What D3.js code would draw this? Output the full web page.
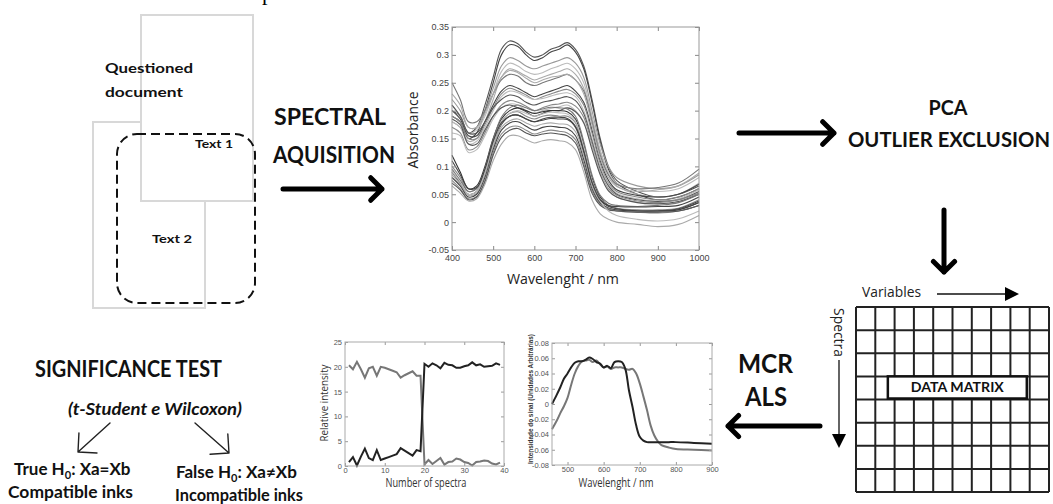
<!DOCTYPE html>
<html><head><meta charset="utf-8">
<script src="https://cdn.jsdelivr.net/npm/d3@7"></script>
<style>body{margin:0;background:#fff}svg{display:block}</style>
</head><body>
<svg id="c" width="1053" height="504"></svg>
<script>
// ---------- DATA ----------
const wavelengths = [400,420,440,460,480,500,520,540,560,580,600,620,640,660,680,700,720,740,760,780,800,850,900,950,1000];
const spectra = [
 [0.20,0.19,0.16,0.17,0.21,0.26,0.31,0.325,0.32,0.305,0.296,0.30,0.31,0.315,0.322,0.31,0.28,0.22,0.15,0.10,0.075,0.055,0.045,0.05,0.065],
 [0.19,0.18,0.15,0.16,0.20,0.25,0.30,0.318,0.315,0.30,0.29,0.295,0.305,0.31,0.318,0.305,0.275,0.215,0.145,0.095,0.07,0.05,0.04,0.045,0.06],
 [0.22,0.20,0.17,0.17,0.20,0.24,0.28,0.295,0.29,0.28,0.275,0.28,0.285,0.29,0.295,0.285,0.26,0.20,0.14,0.10,0.08,0.065,0.06,0.065,0.085],
 [0.21,0.19,0.16,0.165,0.19,0.23,0.27,0.285,0.28,0.27,0.265,0.268,0.275,0.28,0.285,0.275,0.25,0.19,0.13,0.09,0.07,0.058,0.055,0.06,0.08],
 [0.18,0.17,0.145,0.15,0.18,0.22,0.26,0.275,0.27,0.262,0.255,0.26,0.265,0.27,0.275,0.265,0.24,0.185,0.125,0.085,0.065,0.05,0.045,0.05,0.07],
 [0.25,0.22,0.18,0.18,0.20,0.23,0.255,0.265,0.262,0.25,0.245,0.25,0.255,0.26,0.265,0.255,0.235,0.18,0.12,0.085,0.068,0.06,0.062,0.07,0.095],
 [0.20,0.185,0.155,0.155,0.18,0.21,0.235,0.245,0.24,0.232,0.225,0.23,0.235,0.24,0.245,0.235,0.215,0.165,0.11,0.075,0.058,0.048,0.045,0.05,0.068],
 [0.19,0.18,0.15,0.15,0.175,0.205,0.23,0.24,0.235,0.228,0.22,0.225,0.23,0.235,0.238,0.23,0.21,0.16,0.105,0.07,0.055,0.045,0.04,0.045,0.06],
 [0.18,0.17,0.14,0.145,0.17,0.20,0.225,0.235,0.232,0.225,0.22,0.222,0.226,0.23,0.232,0.225,0.20,0.15,0.10,0.068,0.052,0.042,0.038,0.042,0.058],
 [0.21,0.19,0.16,0.16,0.18,0.205,0.22,0.228,0.225,0.215,0.21,0.215,0.218,0.222,0.225,0.218,0.195,0.145,0.095,0.065,0.05,0.04,0.037,0.04,0.055],
 [0.17,0.16,0.13,0.135,0.16,0.19,0.21,0.218,0.215,0.208,0.20,0.205,0.21,0.212,0.215,0.208,0.188,0.14,0.09,0.06,0.048,0.038,0.035,0.04,0.052],
 [0.16,0.155,0.125,0.13,0.155,0.185,0.205,0.212,0.21,0.20,0.195,0.20,0.204,0.207,0.21,0.20,0.18,0.135,0.088,0.058,0.045,0.036,0.032,0.036,0.05],
 [0.185,0.175,0.14,0.14,0.165,0.19,0.205,0.21,0.205,0.198,0.19,0.195,0.20,0.20,0.205,0.198,0.178,0.13,0.085,0.056,0.045,0.035,0.033,0.037,0.05],
 [0.12,0.09,0.06,0.065,0.10,0.15,0.185,0.20,0.205,0.20,0.195,0.198,0.20,0.20,0.198,0.185,0.14,0.08,0.045,0.03,0.025,0.02,0.02,0.022,0.035],
 [0.10,0.08,0.055,0.06,0.095,0.145,0.18,0.195,0.198,0.19,0.185,0.19,0.192,0.19,0.19,0.178,0.13,0.075,0.042,0.03,0.025,0.022,0.022,0.025,0.04],
 [0.09,0.07,0.05,0.055,0.09,0.14,0.175,0.19,0.192,0.185,0.18,0.183,0.186,0.185,0.184,0.17,0.125,0.07,0.04,0.028,0.024,0.02,0.02,0.022,0.035],
 [0.085,0.068,0.048,0.052,0.085,0.135,0.17,0.182,0.185,0.178,0.172,0.176,0.178,0.176,0.175,0.162,0.12,0.065,0.036,0.026,0.022,0.018,0.016,0.02,0.03],
 [0.08,0.065,0.045,0.05,0.08,0.13,0.165,0.178,0.18,0.172,0.165,0.17,0.172,0.17,0.168,0.155,0.112,0.06,0.034,0.025,0.022,0.02,0.02,0.024,0.038],
 [0.075,0.06,0.042,0.046,0.075,0.125,0.158,0.17,0.172,0.165,0.158,0.162,0.165,0.163,0.16,0.148,0.105,0.056,0.032,0.024,0.02,0.018,0.018,0.02,0.03],
 [0.07,0.058,0.04,0.045,0.072,0.12,0.152,0.165,0.168,0.16,0.155,0.158,0.16,0.158,0.155,0.142,0.10,0.052,0.03,0.022,0.02,0.018,0.018,0.02,0.03],
 [0.065,0.052,0.038,0.042,0.068,0.11,0.14,0.155,0.155,0.148,0.142,0.146,0.148,0.146,0.143,0.13,0.09,0.04,0.015,0.005,0.0,-0.004,-0.008,-0.004,0.012],
 [0.095,0.075,0.055,0.06,0.095,0.148,0.188,0.205,0.21,0.205,0.20,0.203,0.206,0.205,0.203,0.19,0.145,0.085,0.048,0.034,0.03,0.028,0.03,0.035,0.05],
 [0.09,0.072,0.05,0.055,0.09,0.14,0.178,0.195,0.20,0.195,0.19,0.194,0.197,0.196,0.194,0.18,0.135,0.075,0.038,0.02,0.012,0.005,0.002,0.006,0.02],
 [0.11,0.085,0.06,0.062,0.095,0.145,0.178,0.19,0.192,0.185,0.18,0.185,0.188,0.188,0.186,0.172,0.128,0.072,0.04,0.03,0.028,0.027,0.028,0.03,0.045],
 [0.23,0.21,0.17,0.17,0.195,0.23,0.26,0.272,0.268,0.258,0.25,0.255,0.26,0.262,0.265,0.255,0.23,0.175,0.115,0.08,0.064,0.055,0.058,0.065,0.088]
];
const spectraShades = ["#555","#444","#999","#bbb","#aaa","#777","#444","#888","#bbb","#555","#888","#bbb","#555","#333","#888","#444","#aaa","#444","#888","#555","#aaa","#777","#bbb","#444","#aaa"];
const specXTicks = [400,500,600,700,800,900,1000];
const specYTicks = [-0.05,0,0.05,0.1,0.15,0.2,0.25,0.3,0.35];

const nSpectra = d3.range(1,40);
const concGray = [20.3,19.5,21,19.5,17.8,19.7,20,18.2,20,19.8,19.5,19.2,18.9,17.8,18.3,18.7,19.1,18.2,18.2,0.3,1.2,0.4,1,1.6,0.3,0.8,0.9,1.5,1.3,0.8,0.6,0.1,0.8,0.9,1.1,1,0.5,0.3,0.7];
const concDark = [0.8,1.8,0.1,1.9,3.5,1.6,1.2,3.2,1.2,1.5,1.8,2.1,2.4,3.6,3.1,2.6,2.1,3.2,3.0,20.6,20,20.7,20.3,19.7,20.8,20.4,20.3,19.8,19.8,20.1,20.3,20.9,20.3,20.5,20,20.1,20.2,20.7,20.4];
const concXTicks = [0,10,20,30,40];
const concYTicks = [0,5,10,15,20,25];

const pureWl = [457,470,480,490,500,510,520,530,540,550,560,570,580,590,600,610,620,630,640,650,660,670,680,690,700,710,720,730,740,750,760,780,800,850,900];
const pureDark = [0.0,0.012,0.022,0.033,0.04,0.048,0.054,0.056,0.056,0.058,0.061,0.059,0.055,0.053,0.048,0.05,0.047,0.055,0.056,0.055,0.046,0.018,-0.004,-0.028,-0.043,-0.048,-0.05,-0.05,-0.05,-0.05,-0.05,-0.05,-0.05,-0.051,-0.052];
const pureGray = [-0.033,-0.022,-0.012,-0.003,0.008,0.025,0.04,0.05,0.056,0.057,0.058,0.055,0.057,0.052,0.048,0.049,0.046,0.048,0.048,0.048,0.046,0.045,0.046,0.04,0.027,0.01,-0.008,-0.028,-0.041,-0.049,-0.054,-0.057,-0.059,-0.06,-0.061];
const pureXTicks = [500,600,700,800,900];
const pureYTicks = [-0.08,-0.06,-0.04,-0.02,0,0.02,0.04,0.06,0.08];

const matrixCols = d3.range(10);
const matrixRows = d3.range(8);

// ---------- DRAW ----------
const svg = d3.select("#c");
const BOLD = "Lato, 'Open Sans', sans-serif";
const REG = "'Open Sans', Lato, sans-serif";
const TICK = "'Liberation Sans', Arial, sans-serif";

function txt(x, y, s, size, opt = {}) {
  const t = svg.append("text").attr("x", x).attr("y", y).text(s)
    .attr("font-family", opt.family || BOLD)
    .attr("font-size", size)
    .attr("font-weight", opt.weight || "bold")
    .attr("fill", opt.fill || "#111");
  if (opt.anchor) t.attr("text-anchor", opt.anchor);
  if (opt.style) t.attr("font-style", opt.style);
  if (opt.len) t.attr("textLength", opt.len).attr("lengthAdjust", "spacingAndGlyphs");
  if (opt.rot) t.attr("transform", `rotate(${opt.rot},${x},${y})`);
  return t;
}
function chevronArrow(x1, y1, x2, y2, w, head, color) {
  const a = Math.atan2(y2 - y1, x2 - x1);
  const p = d3.path();
  p.moveTo(x1, y1); p.lineTo(x2, y2);
  p.moveTo(x2 - head * Math.cos(a - Math.PI / 4), y2 - head * Math.sin(a - Math.PI / 4));
  p.lineTo(x2, y2);
  p.lineTo(x2 - head * Math.cos(a + Math.PI / 4), y2 - head * Math.sin(a + Math.PI / 4));
  svg.append("path").attr("d", p.toString()).attr("fill", "none")
    .attr("stroke", color || "#000").attr("stroke-width", w)
    .attr("stroke-linecap", "round").attr("stroke-linejoin", "round");
}

// partial glyph at top
txt(262, 0, "p", 22, {family: "'Liberation Serif', serif", weight: "normal", fill: "#000"});

// documents
svg.append("rect").attr("x", 93).attr("y", 122).attr("width", 112).attr("height", 186)
  .attr("fill", "#fff").attr("stroke", "#d8d8d8").attr("stroke-width", 2);
svg.append("rect").attr("x", 141).attr("y", 15).attr("width", 112).attr("height", 186)
  .attr("fill", "#fff").attr("stroke", "#d8d8d8").attr("stroke-width", 2);
svg.append("rect").attr("x", 117).attr("y", 134).attr("width", 138).attr("height", 169)
  .attr("rx", 20).attr("fill", "none").attr("stroke", "#111").attr("stroke-width", 2)
  .attr("stroke-dasharray", "9,5");
txt(105, 73, "Questioned", 14, {len: 88});
txt(105, 97, "document", 14, {len: 78});
txt(195, 148, "Text 1", 12, {len: 38});
txt(152, 243, "Text 2", 12, {len: 40});
txt(274, 125, "SPECTRAL", 22, {len: 112});
txt(273, 163, "AQUISITION", 22, {len: 122});
chevronArrow(283, 189, 382, 189, 5, 16);

// spectra plot
{
  const L = 452, R = 699, T = 27, B = 250;
  const x = d3.scaleLinear([400, 1000], [L, R]);
  const y = d3.scaleLinear([-0.05, 0.35], [B, T]);
  const g = svg.append("g");
  const line = d3.line().x((d, i) => x(wavelengths[i])).y(d => y(d)).curve(d3.curveCatmullRom.alpha(0.5));
  g.selectAll("path.sp").data(spectra).join("path").attr("class", "sp")
    .attr("d", line).attr("fill", "none")
    .attr("stroke", (d, i) => spectraShades[i]).attr("stroke-width", 1.1);
  const fmt = d => String(+d.toFixed(2));
  const ax = (gen, tr) => {
    const a = g.append("g").attr("transform", tr).call(gen);
    a.select(".domain").remove();
    a.selectAll("line").attr("stroke", "#888");
    a.selectAll("text").attr("font-family", TICK).attr("font-size", 9).attr("fill", "#444");
    return a;
  };
  ax(d3.axisLeft(y).tickValues(specYTicks).tickFormat(fmt).tickSizeInner(-4).tickSizeOuter(0).tickPadding(3), `translate(${L},0)`);
  ax(d3.axisBottom(x).tickValues(specXTicks).tickFormat(d3.format("d")).tickSizeInner(-4).tickSizeOuter(0).tickPadding(5), `translate(0,${B})`);
  ax(d3.axisRight(y).tickValues(specYTicks).tickFormat("").tickSizeInner(-4).tickSizeOuter(0), `translate(${R},0)`);
  ax(d3.axisTop(x).tickValues(specXTicks).tickFormat("").tickSizeInner(-4).tickSizeOuter(0), `translate(0,${T})`);
  g.append("rect").attr("x", L).attr("y", T).attr("width", R - L).attr("height", B - T)
    .attr("fill", "none").attr("stroke", "#999").attr("stroke-width", 1);
  txt(418, 130, "Absorbance", 14, {family: REG, weight: "normal", anchor: "middle", rot: -90, fill: "#222", len: 77});
  txt(563, 284, "Wavelenght  / nm", 15, {family: REG, weight: "normal", anchor: "middle", fill: "#222", len: 112});
}

// PCA
chevronArrow(739, 133, 834, 133, 5, 16);
txt(948, 115, "PCA", 20, {anchor: "middle", len: 39});
txt(848, 147, "OUTLIER EXCLUSION", 20, {len: 202});
chevronArrow(944, 210, 944, 272, 5, 15);

// data matrix
{
  const gx = d3.scaleLinear([0, matrixCols.length], [856, 1049]);
  const gy = d3.scaleLinear([0, matrixRows.length], [307, 492]);
  const g = svg.append("g").attr("stroke", "#222").attr("stroke-width", 2);
  g.selectAll("line.v").data(d3.range(matrixCols.length + 1)).join("line").attr("class", "v")
    .attr("x1", d => gx(d)).attr("x2", d => gx(d)).attr("y1", gy(0)).attr("y2", gy(matrixRows.length));
  g.selectAll("line.h").data(d3.range(matrixRows.length + 1)).join("line").attr("class", "h")
    .attr("y1", d => gy(d)).attr("y2", d => gy(d)).attr("x1", gx(0)).attr("x2", gx(matrixCols.length));
  svg.append("rect").attr("x", gx(1.65)).attr("y", gy(3)).attr("width", gx(8.85) - gx(1.65)).attr("height", gy(4) - gy(3) - 1)
    .attr("fill", "#fff").attr("stroke", "#111").attr("stroke-width", 2.5);
  txt((gx(1.65) + gx(8.85)) / 2, gy(3) + 16, "DATA MATRIX", 13, {anchor: "middle", len: 93});
  txt(862, 297, "Variables", 14, {family: REG, weight: "normal", fill: "#222", len: 59});
  svg.append("line").attr("x1", 937).attr("x2", 1007).attr("y1", 294).attr("y2", 294).attr("stroke", "#111").attr("stroke-width", 1.3);
  svg.append("path").attr("d", "M1005,287L1019,294L1005,301Z").attr("fill", "#000");
  txt(834, 308, "Spectra", 14, {family: REG, weight: "normal", fill: "#222", rot: 90, len: 49});
  svg.append("line").attr("x1", 839).attr("x2", 839).attr("y1", 360).attr("y2", 437).attr("stroke", "#111").attr("stroke-width", 1.3);
  svg.append("path").attr("d", "M832,434L839,448L846,434Z").attr("fill", "#000");
}

// MCR ALS
txt(738, 373, "MCR", 26, {len: 55});
txt(745, 406, "ALS", 26, {len: 42});
chevronArrow(820, 426, 728, 426, 5, 15);

function miniAxes(g, x, y, xt, yt, fx, fy, L, R, T, B) {
  const ax = (gen, tr) => {
    const a = g.append("g").attr("transform", tr).call(gen);
    a.select(".domain").remove();
    a.selectAll("line").attr("stroke", "#999");
    a.selectAll("text").attr("font-family", TICK).attr("font-size", 7.5).attr("fill", "#555");
  };
  ax(d3.axisLeft(y).tickValues(yt).tickFormat(fy).tickSizeInner(-3).tickSizeOuter(0).tickPadding(3), `translate(${L},0)`);
  ax(d3.axisBottom(x).tickValues(xt).tickFormat(fx).tickSizeInner(-3).tickSizeOuter(0).tickPadding(2), `translate(0,${B})`);
  ax(d3.axisRight(y).tickValues(yt).tickFormat("").tickSizeInner(-3).tickSizeOuter(0), `translate(${R},0)`);
  ax(d3.axisTop(x).tickValues(xt).tickFormat("").tickSizeInner(-3).tickSizeOuter(0), `translate(0,${T})`);
  g.append("rect").attr("x", L).attr("y", T).attr("width", R - L).attr("height", B - T)
    .attr("fill", "none").attr("stroke", "#aaa").attr("stroke-width", 1);
}

// concentration profiles
{
  const L = 345, R = 504, T = 342, B = 466;
  const x = d3.scaleLinear([0, 40], [L, R]);
  const y = d3.scaleLinear([0, 25], [B, T]);
  const g = svg.append("g");
  const line = d3.line().x((d, i) => x(nSpectra[i])).y(d => y(d));
  g.append("path").attr("d", line(concGray)).attr("fill", "none").attr("stroke", "#777").attr("stroke-width", 2);
  g.append("path").attr("d", line(concDark)).attr("fill", "none").attr("stroke", "#222").attr("stroke-width", 2);
  miniAxes(g, x, y, concXTicks, concYTicks, d3.format("d"), d3.format("d"), L, R, T, B);
  txt(328, 403, "Relative intensity", 11, {family: REG, weight: "normal", anchor: "middle", rot: -90, fill: "#333", len: 77});
  txt(426, 487, "Number of spectra", 12, {family: REG, weight: "normal", anchor: "middle", fill: "#333", len: 81});
}

// pure spectra
{
  const L = 552, R = 712, T = 343, B = 465;
  const x = d3.scaleLinear([457, 900], [L, R]);
  const y = d3.scaleLinear([-0.08, 0.08], [B, T]);
  const g = svg.append("g");
  const line = d3.line().x((d, i) => x(pureWl[i])).y(d => y(d)).curve(d3.curveCatmullRom.alpha(0.5));
  g.append("path").attr("d", line(pureGray)).attr("fill", "none").attr("stroke", "#777").attr("stroke-width", 2);
  g.append("path").attr("d", line(pureDark)).attr("fill", "none").attr("stroke", "#222").attr("stroke-width", 2);
  miniAxes(g, x, y, pureXTicks, pureYTicks, d3.format("d"), d => String(+d.toFixed(2)), L, R, T, B);
  txt(533, 399, "Intensidade do sinal (Unidades Arbitrárias)", 7, {family: TICK, anchor: "middle", rot: -90, fill: "#333", len: 130});
  txt(616, 487, "Wavelenght / nm", 13, {family: REG, weight: "normal", anchor: "middle", fill: "#333", len: 75});
}

// significance test
txt(35, 377, "SIGNIFICANCE TEST", 22, {len: 187});
txt(68, 415, "(t-Student e  Wilcoxon)", 17, {style: "italic", len: 174});
chevronArrow(110, 423, 78, 452, 1.4, 19, "#222");
chevronArrow(195, 423, 229, 453, 1.4, 19, "#222");
{
  const t1 = txt(14, 475, "True H", 17);
  t1.append("tspan").attr("font-size", 11).attr("dy", 4).text("0");
  t1.append("tspan").attr("dy", -4).text(": Xa=Xb");
  txt(8, 498, "Compatible inks", 17, {len: 125});
  const t2 = txt(176, 478, "False H", 17);
  t2.append("tspan").attr("font-size", 11).attr("dy", 4).text("0");
  t2.append("tspan").attr("dy", -4).text(": Xa≠Xb");
  txt(175, 501, "Incompatible inks", 17, {len: 128});
}
</script>
</body></html>
